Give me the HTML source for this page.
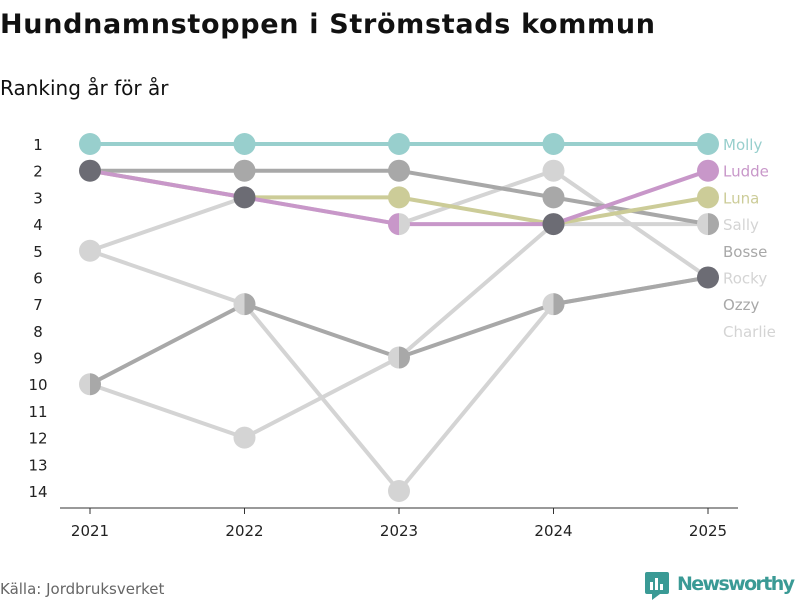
<!DOCTYPE html>
<html><head><meta charset="utf-8">
<style>
body{margin:0;background:#fff;font-family:"Liberation Sans","DejaVu Sans",sans-serif;}
#wrap{position:relative;width:800px;height:600px;overflow:hidden;}
</style></head>
<body>
<div id="wrap">
<svg id="chart" width="800" height="600" xmlns="http://www.w3.org/2000/svg">
<text x="0" y="33" font-size="27" font-weight="bold" fill="#111" font-family="DejaVu Sans, sans-serif" textLength="655">Hundnamnstoppen i Strömstads kommun</text>
<text x="0" y="95" font-size="20" fill="#111" font-family="DejaVu Sans, sans-serif">Ranking år för år</text>
<text x="0" y="594" font-size="15" fill="#666" font-family="DejaVu Sans, sans-serif">Källa: Jordbruksverket</text>
<g>
<rect x="645" y="572" width="24" height="22" rx="2" fill="#3a9a95"/>
<rect x="650" y="582" width="3" height="8" fill="#fff"/><rect x="655" y="578" width="3" height="12" fill="#fff"/><rect x="660" y="584" width="3" height="6" fill="#fff"/>
<polygon points="652,594 660,594 652,600" fill="#3a9a95"/>
<text x="677" y="590" font-size="19" font-weight="bold" fill="#3a9a95" font-family="DejaVu Sans, sans-serif" textLength="118">Newsworthy</text>
</g>
<g id="axes"></g>
<g id="lines"></g>
<g id="points"></g>
<g id="labels"></g>
</svg>
</div>
<script>
const years = [2021, 2022, 2023, 2024, 2025];
const names = ["Molly","Ludde","Luna","Sally","Bosse","Rocky","Ozzy","Charlie"];
const rankMolly   = [1,1,1,1,1];
const rankLudde   = [2,3,4,4,2];
const rankLuna    = [2,3,3,4,3];
const rankSally   = [10,12,9,4,4];
const rankBosse   = [2,2,2,3,4];
const rankRocky   = [5,3,4,2,6];
const rankOzzy    = [10,7,9,7,6];
const rankCharlie = [5,7,14,7,6];
const yTicks = [1,2,3,4,5,6,7,8,9,10,11,12,13,14];
const ranks = [rankMolly,rankLudde,rankLuna,rankSally,rankBosse,rankRocky,rankOzzy,rankCharlie];
const colors = ["#98cfcd","#c897c9","#cccc98","#d4d4d4","#a8a8a8","#d4d4d4","#a8a8a8","#d4d4d4"];
const drawOrder = [7,5,3,6,4,2,1,0];
const tiePriority = [0,1,2,3,5,7,4,6];
const NS="http://www.w3.org/2000/svg";
const x0=90,x1=708,yTop=144,yStep=(491-144)/13;
function xScale(i){return x0+i*(x1-x0)/(years.length-1);}
function yScale(r){return yTop+(r-1)*yStep;}
function mk(tag,attrs,parent){const e=document.createElementNS(NS,tag);for(const k in attrs)e.setAttribute(k,attrs[k]);parent.appendChild(e);return e;}
const axes=document.getElementById('axes');
const axLine=mk('line',{x1:60,x2:738,y1:508,y2:508,stroke:'#333','stroke-width':1},axes);


years.forEach((yr,i)=>{
  const t=mk('line',{x1:xScale(i),x2:xScale(i),y1:508,y2:514,stroke:'#333'},axes);
  
  
  const l=mk('text',{x:xScale(i),y:536,'font-size':15,'text-anchor':'middle',fill:'#222','font-family':'DejaVu Sans, sans-serif'},axes);
  l.textContent=yr;
  
  
});
yTicks.forEach(r=>{
  const l=mk('text',{x:38,y:yScale(r)+6,'font-size':15,'text-anchor':'middle',fill:'#222','font-family':'DejaVu Sans, sans-serif'},axes);
  l.textContent=r;
  
  
});
const lines=document.getElementById('lines');
drawOrder.forEach(s=>{
  const d=ranks[s].map((r,i)=>(i?'L':'M')+xScale(i)+','+yScale(r)).join(' ');
  const p=mk('path',{d:d,fill:'none',stroke:colors[s],'stroke-width':4,'stroke-linejoin':'round'},lines);
  
  
});
const pts=document.getElementById('points');
const R=11;
years.forEach((yr,i)=>{
  const groups={};
  tiePriority.forEach(s=>{const r=ranks[s][i];(groups[r]=groups[r]||[]).push(s);});
  for(const r in groups){
    const g=groups[r],cx=xScale(i),cy=yScale(+r);
    if(g.length===1){
      const c=mk('circle',{cx:cx,cy:cy,r:R,fill:colors[g[0]]},pts);
      
      
    } else if(g.length===2){
      const a=mk('path',{d:`M${cx},${cy-R} A${R},${R} 0 0 0 ${cx},${cy+R} Z`,fill:colors[g[0]]},pts);
      
      
      const b=mk('path',{d:`M${cx},${cy-R} A${R},${R} 0 0 1 ${cx},${cy+R} Z`,fill:colors[g[1]]},pts);
      
      
    } else {
      const c=mk('circle',{cx:cx,cy:cy,r:R,fill:'#6c6c74'},pts);
      
      
    }
  }
});
const labs=document.getElementById('labels');
const last=years.length-1;
const order=names.map((n,i)=>i).sort((a,b)=>ranks[a][last]-ranks[b][last]||a-b);
let prev=0;
order.forEach(s=>{
  let pos=Math.max(ranks[s][last],prev+1);prev=pos;
  const t=mk('text',{x:723,y:yScale(pos)+6,'font-size':15,fill:colors[s],'font-family':'DejaVu Sans, sans-serif'},labs);
  t.textContent=names[s];
  
  
});
</script>
</body></html>
